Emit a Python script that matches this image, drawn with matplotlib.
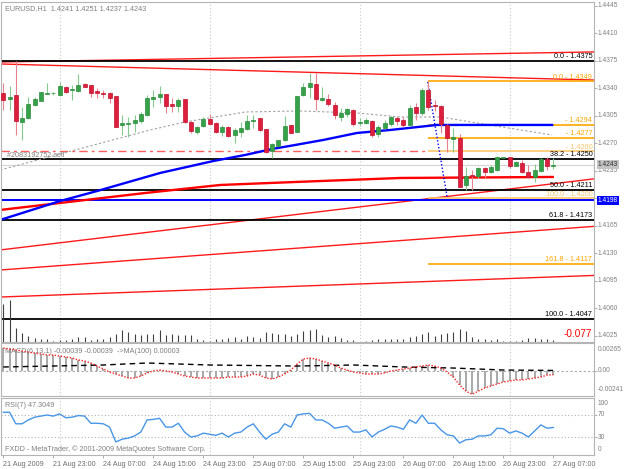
import numpy as np
import matplotlib
matplotlib.use('Agg')
import matplotlib.pyplot as plt

plt.rcParams['font.family'] = ['Liberation Sans', 'DejaVu Sans']

W, H = 625, 469
FS = 5.2
FS_AXIS = 4.8
GRAY = '#808080'

# EURUSD H1, bar 0 = 21 Aug 2009 15:00
opens = [1.4334, 1.4327, 1.4332, 1.4297, 1.4302, 1.4319, 1.4324, 1.4333, 1.4334, 1.4332,
         1.4342, 1.4338, 1.4337, 1.4346, 1.4344, 1.4337, 1.4334, 1.4334, 1.4330, 1.4294,
         1.4295, 1.4296, 1.4299, 1.4306, 1.4327, 1.4329, 1.4333, 1.4320, 1.4318, 1.4327,
         1.4297, 1.4285, 1.4292, 1.4301, 1.4296, 1.4285, 1.4291, 1.4281, 1.4285, 1.4288,
         1.4299, 1.4302, 1.4288, 1.4261, 1.4267, 1.4275, 1.4294, 1.4285, 1.4332, 1.4342,
         1.4346, 1.4325, 1.4327, 1.4319, 1.4304, 1.4308, 1.4313, 1.4296, 1.4296, 1.4299,
         1.4282, 1.4290, 1.4295, 1.4302, 1.4300, 1.4294, 1.4316, 1.4309, 1.4338, 1.4319,
         1.4318, 1.4294, 1.4276, 1.4277, 1.4217, 1.4230, 1.4228, 1.4239, 1.4234, 1.4236,
         1.4251, 1.4253, 1.4241, 1.4245, 1.4234, 1.4227, 1.4235, 1.4250, 1.4241]
highs = [1.4347, 1.4343, 1.4375, 1.4316, 1.4329, 1.4329, 1.4335, 1.4347, 1.4336, 1.4348,
         1.4343, 1.4344, 1.4358, 1.4347, 1.4345, 1.4341, 1.4338, 1.4336, 1.4331, 1.4306,
         1.4304, 1.4306, 1.4310, 1.4332, 1.4338, 1.4343, 1.4333, 1.4328, 1.4328, 1.4327,
         1.4299, 1.4292, 1.4304, 1.4308, 1.4297, 1.4294, 1.4292, 1.4290, 1.4297, 1.4306,
         1.4306, 1.4302, 1.4289, 1.4271, 1.4275, 1.4305, 1.4294, 1.4331, 1.4347, 1.4360,
         1.4360, 1.4342, 1.4333, 1.4323, 1.4315, 1.4315, 1.4314, 1.4302, 1.4302, 1.4300,
         1.4294, 1.4300, 1.4305, 1.4305, 1.4304, 1.4319, 1.4321, 1.4341, 1.4349, 1.4325,
         1.4319, 1.4295, 1.4290, 1.4282, 1.4240, 1.4236, 1.4240, 1.4240, 1.4242, 1.4254,
         1.4253, 1.4253, 1.4248, 1.4249, 1.4243, 1.4244, 1.4252, 1.4253, 1.4251]
lows = [1.4313, 1.4313, 1.4281, 1.4275, 1.4301, 1.4318, 1.4324, 1.4333, 1.4332, 1.4330,
        1.4334, 1.4325, 1.4335, 1.4342, 1.4329, 1.4328, 1.4328, 1.4322, 1.4291, 1.4281,
        1.4278, 1.4285, 1.4296, 1.4305, 1.4316, 1.4321, 1.4309, 1.4310, 1.4310, 1.4296,
        1.4283, 1.4282, 1.4291, 1.4299, 1.4283, 1.4280, 1.4278, 1.4271, 1.4278, 1.4287,
        1.4290, 1.4286, 1.4258, 1.4252, 1.4267, 1.4273, 1.4283, 1.4285, 1.4330, 1.4328,
        1.4313, 1.4324, 1.4318, 1.4301, 1.4299, 1.4304, 1.4292, 1.4292, 1.4295, 1.4278,
        1.4278, 1.4289, 1.4292, 1.4293, 1.4291, 1.4292, 1.4300, 1.4306, 1.4313, 1.4311,
        1.4283, 1.4259, 1.4259, 1.4215, 1.4211, 1.4211, 1.4226, 1.4226, 1.4233, 1.4235,
        1.4251, 1.4239, 1.4241, 1.4232, 1.4226, 1.4221, 1.4234, 1.4236, 1.4237]
closes = [1.4325, 1.4329, 1.4299, 1.4302, 1.4320, 1.4327, 1.4335, 1.4334, 1.4334, 1.4343,
          1.4335, 1.4339, 1.4344, 1.4342, 1.4334, 1.4334, 1.4333, 1.4328, 1.4291, 1.4296,
          1.4296, 1.4300, 1.4308, 1.4328, 1.4329, 1.4333, 1.4318, 1.4318, 1.4325, 1.4297,
          1.4286, 1.4291, 1.4301, 1.4295, 1.4285, 1.4291, 1.4280, 1.4287, 1.4290, 1.4299,
          1.4300, 1.4287, 1.4259, 1.4269, 1.4275, 1.4292, 1.4283, 1.4330, 1.4342, 1.4347,
          1.4327, 1.4328, 1.4320, 1.4306, 1.4309, 1.4314, 1.4295, 1.4297, 1.4300, 1.4281,
          1.4291, 1.4296, 1.4304, 1.4299, 1.4294, 1.4315, 1.4309, 1.4338, 1.4316, 1.4318,
          1.4295, 1.4277, 1.4278, 1.4215, 1.4228, 1.4228, 1.4239, 1.4234, 1.4240, 1.4253,
          1.4253, 1.4241, 1.4246, 1.4234, 1.4227, 1.4236, 1.4250, 1.4241, 1.4243]
volume = [38, 42, 14, 9, 6, 4, 3, 3, 1, 2, 2, 3, 5, 5, 2, 3, 3, 5, 8, 12,
          10, 8, 7, 8, 8, 12, 7, 8, 7, 7, 7, 3, 2, 1, 3, 3, 4, 5, 3, 6,
          5, 4, 10, 9, 8, 8, 6, 8, 11, 12, 13, 7, 5, 6, 4, 2, 2, 0, 1, 2,
          3, 3, 3, 3, 3, 5, 6, 8, 10, 6, 8, 9, 10, 13, 11, 5, 3, 3, 2, 3,
          1, 1, 1, 2, 4, 4, 3, 3, 2]
macd = [0.00217, 0.00208, 0.00198, 0.00188, 0.00179, 0.00169, 0.00160, 0.00150, 0.00150, 0.00141,
        0.00131, 0.00122, 0.00103, 0.00093, 0.00074, 0.00045, 0.00017, -0.00012, -0.00031, -0.00050,
        -0.00069, -0.00069, -0.00050, -0.00021, -0.00002, 0.00007, -0.00002, -0.00012, -0.00031, -0.00050,
        -0.00060, -0.00069, -0.00069, -0.00069, -0.00069, -0.00069, -0.00060, -0.00060, -0.00060, -0.00050,
        -0.00031, -0.00041, -0.00069, -0.00079, -0.00060, -0.00031, 0.00007, 0.00064, 0.00112, 0.00122,
        0.00112, 0.00093, 0.00074, 0.00055, 0.00026, 0.00007, -0.00012, -0.00021, -0.00031, -0.00031,
        -0.00031, -0.00021, -0.00002, 0.00007, 0.00017, 0.00026, 0.00036, 0.00045, 0.00055, 0.00045,
        0.00026, -0.00012, -0.00060, -0.00136, -0.00194, -0.00225, -0.00194, -0.00165, -0.00145, -0.00126,
        -0.00107, -0.00098, -0.00088, -0.00088, -0.00079, -0.00069, -0.00060, -0.00041, -0.00039]
rsi = [75, 75, 54, 54, 61, 66, 68, 70, 68, 72, 65, 66, 69, 68, 55, 55, 54, 48, 21, 26,
       28, 32, 39, 61, 62, 64, 48, 48, 55, 39, 30, 32, 37, 35, 33, 37, 30, 37, 39, 48,
       54, 39, 26, 35, 39, 54, 48, 70, 72, 73, 61, 61, 55, 46, 48, 50, 39, 39, 43, 30,
       39, 44, 50, 48, 44, 61, 55, 70, 55, 55, 43, 34, 32, 19, 25, 26, 32, 32, 34, 46,
       45, 37, 41, 37, 30, 41, 52, 46, 47.3]

# moving averages / indicator lines (bar, value) read at turning points
ma_blue_bars = [-0.5, 9.1, 15.0, 25.1, 33.6, 38.7, 43.0, 46.7, 51.2, 56.6, 61.9, 69.4, 87.8]
ma_blue_vals = [1.41727, 1.41968, 1.42095, 1.42325, 1.42477, 1.42554, 1.42630, 1.42681,
                1.42745, 1.42834, 1.42872, 1.42936, 1.42936]
ma_red_bars = [-0.5, 22.7, 34.7, 46.7, 63.5, 87.9]
ma_red_vals = [1.41854, 1.42070, 1.42172, 1.42210, 1.42261, 1.42274]
ma_gray_bars = [-0.5, 23.5, 29.1, 38.7, 47.5, 56.6, 63.5, 69.9, 87.8]
ma_gray_vals = [1.42363, 1.42872, 1.42974, 1.43101, 1.43114, 1.43088, 1.43037, 1.43037, 1.42808]
macd_ma_bars = [0, 16, 23, 33, 47, 56, 64, 72, 80, 88]
macd_ma_vals = [0.00036, 0.00055, 0.00074, 0.00055, 0.00045, 0.00055, 0.00036, 0.00026, 0.00007, 0.00003]

# trend lines: two anchor points each (bar, price)
trend_lines = [((-0.5, 1.43737), (94.3, 1.43865)),
               ((-0.5, 1.43712), (94.3, 1.43508)),
               ((-0.5, 1.41345), (94.3, 1.42248)),
               ((-0.5, 1.41090), (94.3, 1.41644)),
               ((-0.5, 1.40746), (94.3, 1.41020))]
fib_trend = ((67.9, 1.43483), (71.0, 1.42019))

fib_black = [1.4375, 1.4250, 1.4211, 1.4173, 1.4047]
fib_black_labels = ['0.0 - 1.4375', '38.2 - 1.4250', '50.0 - 1.4211', '61.8 - 1.4173', '100.0 - 1.4047']
fib_orange = [1.4349, 1.4294, 1.4277, 1.4260, 1.4200, 1.4117]
fib_orange_labels = ['0.0 - 1.4349', '- 1.4294', '- 1.4277', '- 1.4260', '100.0 - 1.4200', '161.8 - 1.4117']
fib_orange_colors = ['#ffa500', '#ffa500', '#ffa500', '#fcc66a', '#fcc66a', '#ffa500']
fib2_start = 68

sell_price = 1.4260
alert_price = 1.4198
bid = 1.4243

price_ticks = [1.4445, 1.4410, 1.4375, 1.4340, 1.4305, 1.4270, 1.4235, 1.4200,
               1.4165, 1.4130, 1.4095, 1.4060, 1.4025]
date_ticks = [0, 8, 16, 24, 32, 40, 48, 56, 64, 72, 80, 88]
date_labels = ['21 Aug 2009', '21 Aug 23:00', '24 Aug 07:00', '24 Aug 15:00', '24 Aug 23:00',
               '25 Aug 07:00', '25 Aug 15:00', '25 Aug 23:00', '26 Aug 07:00', '26 Aug 15:00',
               '26 Aug 23:00', '27 Aug 07:00']
grid_bars = [9, 33, 57, 81]
XMIN, XMAX = -0.29, 94.5


def rect(top, bottom):
    return [1.5 / W, 1 - bottom / H, (594 - 1.5) / W, (bottom - top) / H]


def right_label(a, val, text, dy=0, **kw):
    opts = dict(fontsize=FS_AXIS, color=GRAY, ha='left', va='center')
    opts.update(kw)
    a.annotate(text, xy=(1, val), xycoords=('axes fraction', 'data'), xytext=(2.6, dy),
               textcoords='offset points', annotation_clip=False, **opts)


fig = plt.figure(figsize=(W / 100, H / 100), dpi=100)
ax = fig.add_axes(rect(1.5, 341.5))
axm = fig.add_axes(rect(343, 396), sharex=ax)
axr = fig.add_axes(rect(397.5, 455), sharex=ax)

for a in (ax, axm, axr):
    a.set_xlim(XMIN, XMAX)
    for s in a.spines.values():
        s.set_color('#b4b4b4')
        s.set_linewidth(0.8)
    a.yaxis.tick_right()
    a.tick_params(axis='y', length=2, width=0.6, color='#a0a0a0', labelright=False, labelleft=False)
    a.tick_params(axis='x', bottom=False, labelbottom=False)
    for g in grid_bars:
        a.axvline(g, color='#c8c8c8', lw=0.8, ls=(0, (1, 2)), zorder=0)

# ---- main price panel ----
x = np.arange(len(closes))
o, h, l, c = map(np.array, (opens, highs, lows, closes))
ax.set_ylim(1.40180, 1.44507)
ax.set_yticks(price_ticks)

for p1, p2 in trend_lines:
    ax.axline(p1, p2, color='#ff1a1a', lw=1.0, zorder=1)
for lvl in fib_black:
    ax.axhline(lvl, color='black', lw=1.3, zorder=2)
for lvl, col in zip(fib_orange, fib_orange_colors):
    ax.hlines(lvl, fib2_start, XMAX, color=col, lw=1.2, zorder=2)
ax.axhline(sell_price, xmax=(fib2_start - XMIN) / (XMAX - XMIN), color='#ff5c5c', lw=1.0,
           ls=(0, (6, 3, 2, 3)), zorder=2)
ax.axhline(bid, color='#d4d4d4', lw=0.8, zorder=1)
ax.axhline(alert_price, color='#0000ff', lw=1.4, zorder=2)
ax.plot(ma_gray_bars, ma_gray_vals, color='#a0a0a0', lw=0.8, ls=(0, (2, 2)), zorder=2)
ax.plot(ma_red_bars, ma_red_vals, color='#ff0000', lw=1.7, zorder=2)
ax.plot(ma_blue_bars, ma_blue_vals, color='#0000ff', lw=1.7, zorder=2)
ax.plot(*zip(*fib_trend), color='#0000ff', lw=1.0, ls=(0, (1, 1.5)), zorder=2)

up = c >= o
ax.vlines(x[up], l[up], h[up], color='#86c98f', lw=0.8, zorder=3)
ax.vlines(x[~up], l[~up], h[~up], color='#e8808f', lw=0.8, zorder=3)
ax.bar(x[up], (c - o)[up], bottom=o[up], width=0.64, color='#35a24a', edgecolor='#2b8a3c',
       lw=0.5, zorder=4)
ax.bar(x[~up], (o - c)[~up], bottom=c[~up], width=0.64, color='#dc1f3d', edgecolor='#c0102c',
       lw=0.5, zorder=4)

for lvl, txt in zip(fib_black, fib_black_labels):
    ax.annotate(txt, xy=(1, lvl), xycoords=('axes fraction', 'data'), xytext=(-1.2, 0.6),
                textcoords='offset points', ha='right', va='bottom', fontsize=FS, color='black')
for lvl, txt, col in zip(fib_orange, fib_orange_labels, fib_orange_colors):
    ax.annotate(txt, xy=(1, lvl), xycoords=('axes fraction', 'data'), xytext=(-1.2, 0.6),
                textcoords='offset points', ha='right', va='bottom', fontsize=FS, color=col)
ax.annotate('#2083192752 sell', xy=(0, sell_price), xycoords=('axes fraction', 'data'),
            xytext=(4, -0.8), textcoords='offset points', ha='left', va='top', fontsize=FS, color=GRAY)
ax.annotate('EURUSD,H1  1.4241 1.4251 1.4237 1.4243', xy=(0, 1), xycoords='axes fraction',
            xytext=(2.6, -5), textcoords='offset points', ha='left', va='center', fontsize=FS,
            color=GRAY)

# the 1.4200 axis label sits under the 1.4198 alert box, as in the terminal
for v in price_ticks:
    if abs(v - alert_price) > 0.0005:
        right_label(ax, v, '%.4f' % v)
right_label(ax, bid, '%.4f' % bid, color='#303030',
            bbox=dict(boxstyle='square,pad=0.15', fc='#c4c4c4', ec='none'))
right_label(ax, alert_price, '%.4f' % alert_price, color='white',
            bbox=dict(boxstyle='square,pad=0.15', fc='#0000ff', ec='none'))

axv = fig.add_axes(ax.get_position(), sharex=ax)
axv.set_ylim(0, 340)
axv.vlines(x, 0, volume, color='#404040', lw=0.8)
axv.set_axis_off()
ax.annotate('-0.077', xy=(1, 0), xycoords='axes fraction', xytext=(-1.2, 5.2),
            textcoords='offset points', ha='right', va='center', fontsize=7.2, color='#ff0000')

# ---- MACD panel ----
axm.set_ylim(-0.00241, 0.00265)
axm.set_yticks([0])
axm.axhline(0, color='#a8a8a8', lw=0.8, ls=(0, (2, 2)), zorder=1)
axm.vlines(x, 0, macd, color='#a8a8a8', lw=1.4, zorder=2)
axm.plot(macd_ma_bars, macd_ma_vals, color='black', lw=1.0, ls=(0, (4, 3)), zorder=3)
axm.plot(x, macd, color='#ff2020', lw=1.0, ls=(0, (1, 1.2)), zorder=4)
axm.annotate('MACD(6,13,1) -0.00039 -0.00039  ->MA(100) 0.00003', xy=(0, 1),
             xycoords='axes fraction', xytext=(2.6, -5.8), textcoords='offset points',
             ha='left', va='center', fontsize=FS, color=GRAY)
right_label(axm, 0.00265, '0.00265', dy=-5)
right_label(axm, 0, '0.00')
right_label(axm, -0.00241, '-0.00241', dy=5)

# ---- RSI panel ----
axr.set_ylim(-2.7, 101.8)
axr.set_yticks([70, 30])
for lvl in (70, 30):
    axr.axhline(lvl, color='#b0b0b0', lw=0.8, ls=(0, (1, 2)), zorder=1)
axr.plot(x, rsi, color='#4896e8', lw=1.0, zorder=3)
axr.annotate('RSI(7) 47.3049', xy=(0, 1), xycoords='axes fraction', xytext=(2.6, -5.4),
             textcoords='offset points', ha='left', va='center', fontsize=FS, color=GRAY)
axr.annotate('FXDD - MetaTrader, \u00a9 2001-2009 MetaQuotes Software Corp.', xy=(0, 0),
             xycoords='axes fraction', xytext=(2.6, 4.4), textcoords='offset points',
             ha='left', va='center', fontsize=FS, color=GRAY)
right_label(axr, 100, '100', dy=-3.3)
right_label(axr, 70, '70')
right_label(axr, 30, '30')
right_label(axr, 0, '0', dy=2.6)

axr.tick_params(axis='x', bottom=True, labelbottom=True, length=2.5, width=0.6,
                color='#a0a0a0', pad=1.5, labelsize=FS, labelcolor='#707070')
axr.set_xticks(date_ticks)
axr.set_xticklabels(date_labels)
for t in axr.get_xticklabels():
    t.set_ha('left')

fig.savefig('out.png', dpi=100, facecolor='white')
